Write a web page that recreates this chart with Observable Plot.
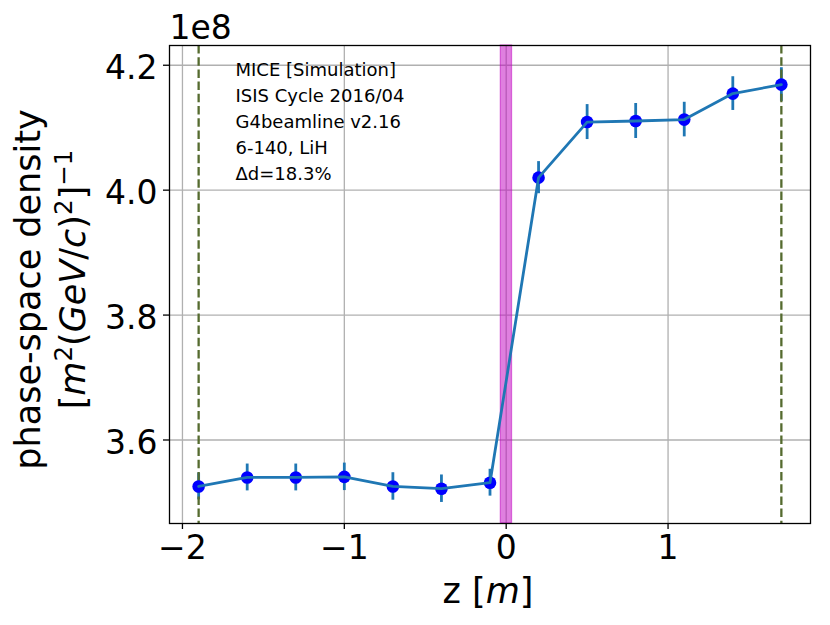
<!DOCTYPE html>
<html><head><meta charset="utf-8">
<script src="https://cdn.jsdelivr.net/npm/d3@7"></script>
<script src="https://cdn.jsdelivr.net/npm/@observablehq/plot@0.6"></script>
<style>html,body{margin:0;padding:0;background:#fff;} svg{font-family:"DejaVu Sans";}</style>
</head><body><div id="chart"></div>
<script>
// Data (phase-space density in units of 1e8)
const z = [-1.9, -1.6, -1.3, -1.0, -0.7, -0.4, -0.1, 0.2, 0.5, 0.8, 1.1, 1.4, 1.7];
const density = [3.5256, 3.540, 3.540, 3.541, 3.5256, 3.522, 3.5316, 4.020, 4.109, 4.1107, 4.113, 4.1546, 4.169];
const densityErr = [0.0215, 0.0215, 0.0215, 0.022, 0.022, 0.022, 0.0215, 0.0257, 0.028, 0.028, 0.0277, 0.027, 0.027];
const trackerRefs = [-1.9, 1.7];
const absorber = [{x1: -0.033, x2: 0.036}];
const xTicks = [-2, -1, 0, 1];
const yTicks = [3.6, 3.8, 4.0, 4.2];
const annotation = ["MICE [Simulation]", "ISIS Cycle 2016/04", "G4beamline v2.16", "6-140, LiH", "Δd=18.3%"];
const xLabel = "z [m]";
const yLabel1 = "phase-space density";
const yLabel2 = "[m2(GeV/c)2]-1";
const offsetText = "1e8";

const rows = z.map((v, i) => ({z: v, d: density[i], e: densityErr[i]}));

const plot = Plot.plot({
  width: 830, height: 625,
  marginLeft: 169, marginRight: 20, marginTop: 45, marginBottom: 102,
  style: {fontFamily: "DejaVu Sans", background: "white", color: "black", overflow: "visible"},
  x: {domain: [-2.08, 1.88]},
  y: {domain: [3.4663, 4.2316]},
  marks: [
    Plot.gridX(xTicks, {stroke: "#b0b0b0", strokeOpacity: 1, strokeWidth: 1.3}),
    Plot.gridY(yTicks, {stroke: "#b0b0b0", strokeOpacity: 1, strokeWidth: 1.3}),
    Plot.rect(absorber, {x1: "x1", x2: "x2", fill: "#bf00bf", fillOpacity: 0.5, stroke: "#bf00bf", strokeOpacity: 0.5, strokeWidth: 1.3}),
    Plot.ruleX(rows, {x: "z", y1: d => d.d - d.e, y2: d => d.d + d.e, stroke: "#1f77b4", strokeWidth: 2.8}),
    Plot.ruleX(trackerRefs, {stroke: "#556b2f", strokeWidth: 2.3, strokeDasharray: "8.5,3.7"}),
    Plot.dot(rows, {x: "z", y: "d", r: 6.3, fill: "blue", stroke: "none"}),
    Plot.line(rows, {x: "z", y: "d", stroke: "#1f77b4", strokeWidth: 2.8}),
    Plot.frame({stroke: "black", strokeWidth: 1.3}),
    Plot.axisX({ticks: xTicks, tickSize: 6, tickPadding: 6, fontSize: 33, strokeWidth: 1.3, tickFormat: d3.format("d"), label: null}),
    Plot.axisY({ticks: yTicks, tickSize: 6, tickFormat: () => "", strokeWidth: 1.3, label: null}),
    Plot.axisY({ticks: yTicks, tickSize: 0, tickPadding: 12, dy: 3, fontSize: 33, tickFormat: d3.format(".1f"), label: null}),
    Plot.text([offsetText], {text: d => d, frameAnchor: "top-left", textAnchor: "start", lineAnchor: "bottom", dy: -7, fontSize: 33}),
    Plot.text([annotation.join("\n")], {text: d => d, frameAnchor: "top-left", textAnchor: "start", lineAnchor: "bottom", dx: 66, dy: 134.7, fontSize: 18, lineHeight: 1.444}),
    Plot.text([xLabel], {text: d => d, frameAnchor: "bottom", textAnchor: "middle", lineAnchor: "bottom", dx: -2, dy: 79, fontSize: 35}),
    Plot.text([yLabel1], {text: d => d, frameAnchor: "left", textAnchor: "middle", rotate: -90, lineAnchor: "bottom", dx: -130, dy: 5, fontSize: 35}),
    Plot.text([yLabel2], {text: d => d, frameAnchor: "left", textAnchor: "middle", rotate: -90, lineAnchor: "bottom", dx: -85, dy: -5, fontSize: 35})
  ]
});

function richText(svg, match, parts, fs) {
  const el = Array.from(svg.querySelectorAll("text")).find(t => t.textContent === match);
  if (!el) return;
  while (el.firstChild) el.removeChild(el.firstChild);
  const ns = "http://www.w3.org/2000/svg";
  let raised = 0;
  for (const [s, kind] of parts) {
    const t = document.createElementNS(ns, "tspan");
    t.textContent = s;
    if (kind === "i") t.setAttribute("font-style", "italic");
    if (kind === "s") {
      t.setAttribute("font-size", (fs * 0.7) + "px");
      if (!raised) { t.setAttribute("dy", (-fs * 0.36) + "px"); raised = 1; }
    } else if (raised) {
      t.setAttribute("dy", (fs * 0.36) + "px"); raised = 0;
    }
    el.appendChild(t);
  }
}
richText(plot, xLabel, [["z [", "n"], ["m", "i"], ["]", "n"]], 35);
richText(plot, yLabel2, [["[", "n"], ["m", "i"], ["2", "s"], ["(", "n"], ["GeV", "i"], ["/", "n"], ["c", "i"], [")", "n"], ["2", "s"], ["]", "n"], ["\u22121", "s"]], 35);

document.getElementById("chart").appendChild(plot);
</script>
</body></html>
